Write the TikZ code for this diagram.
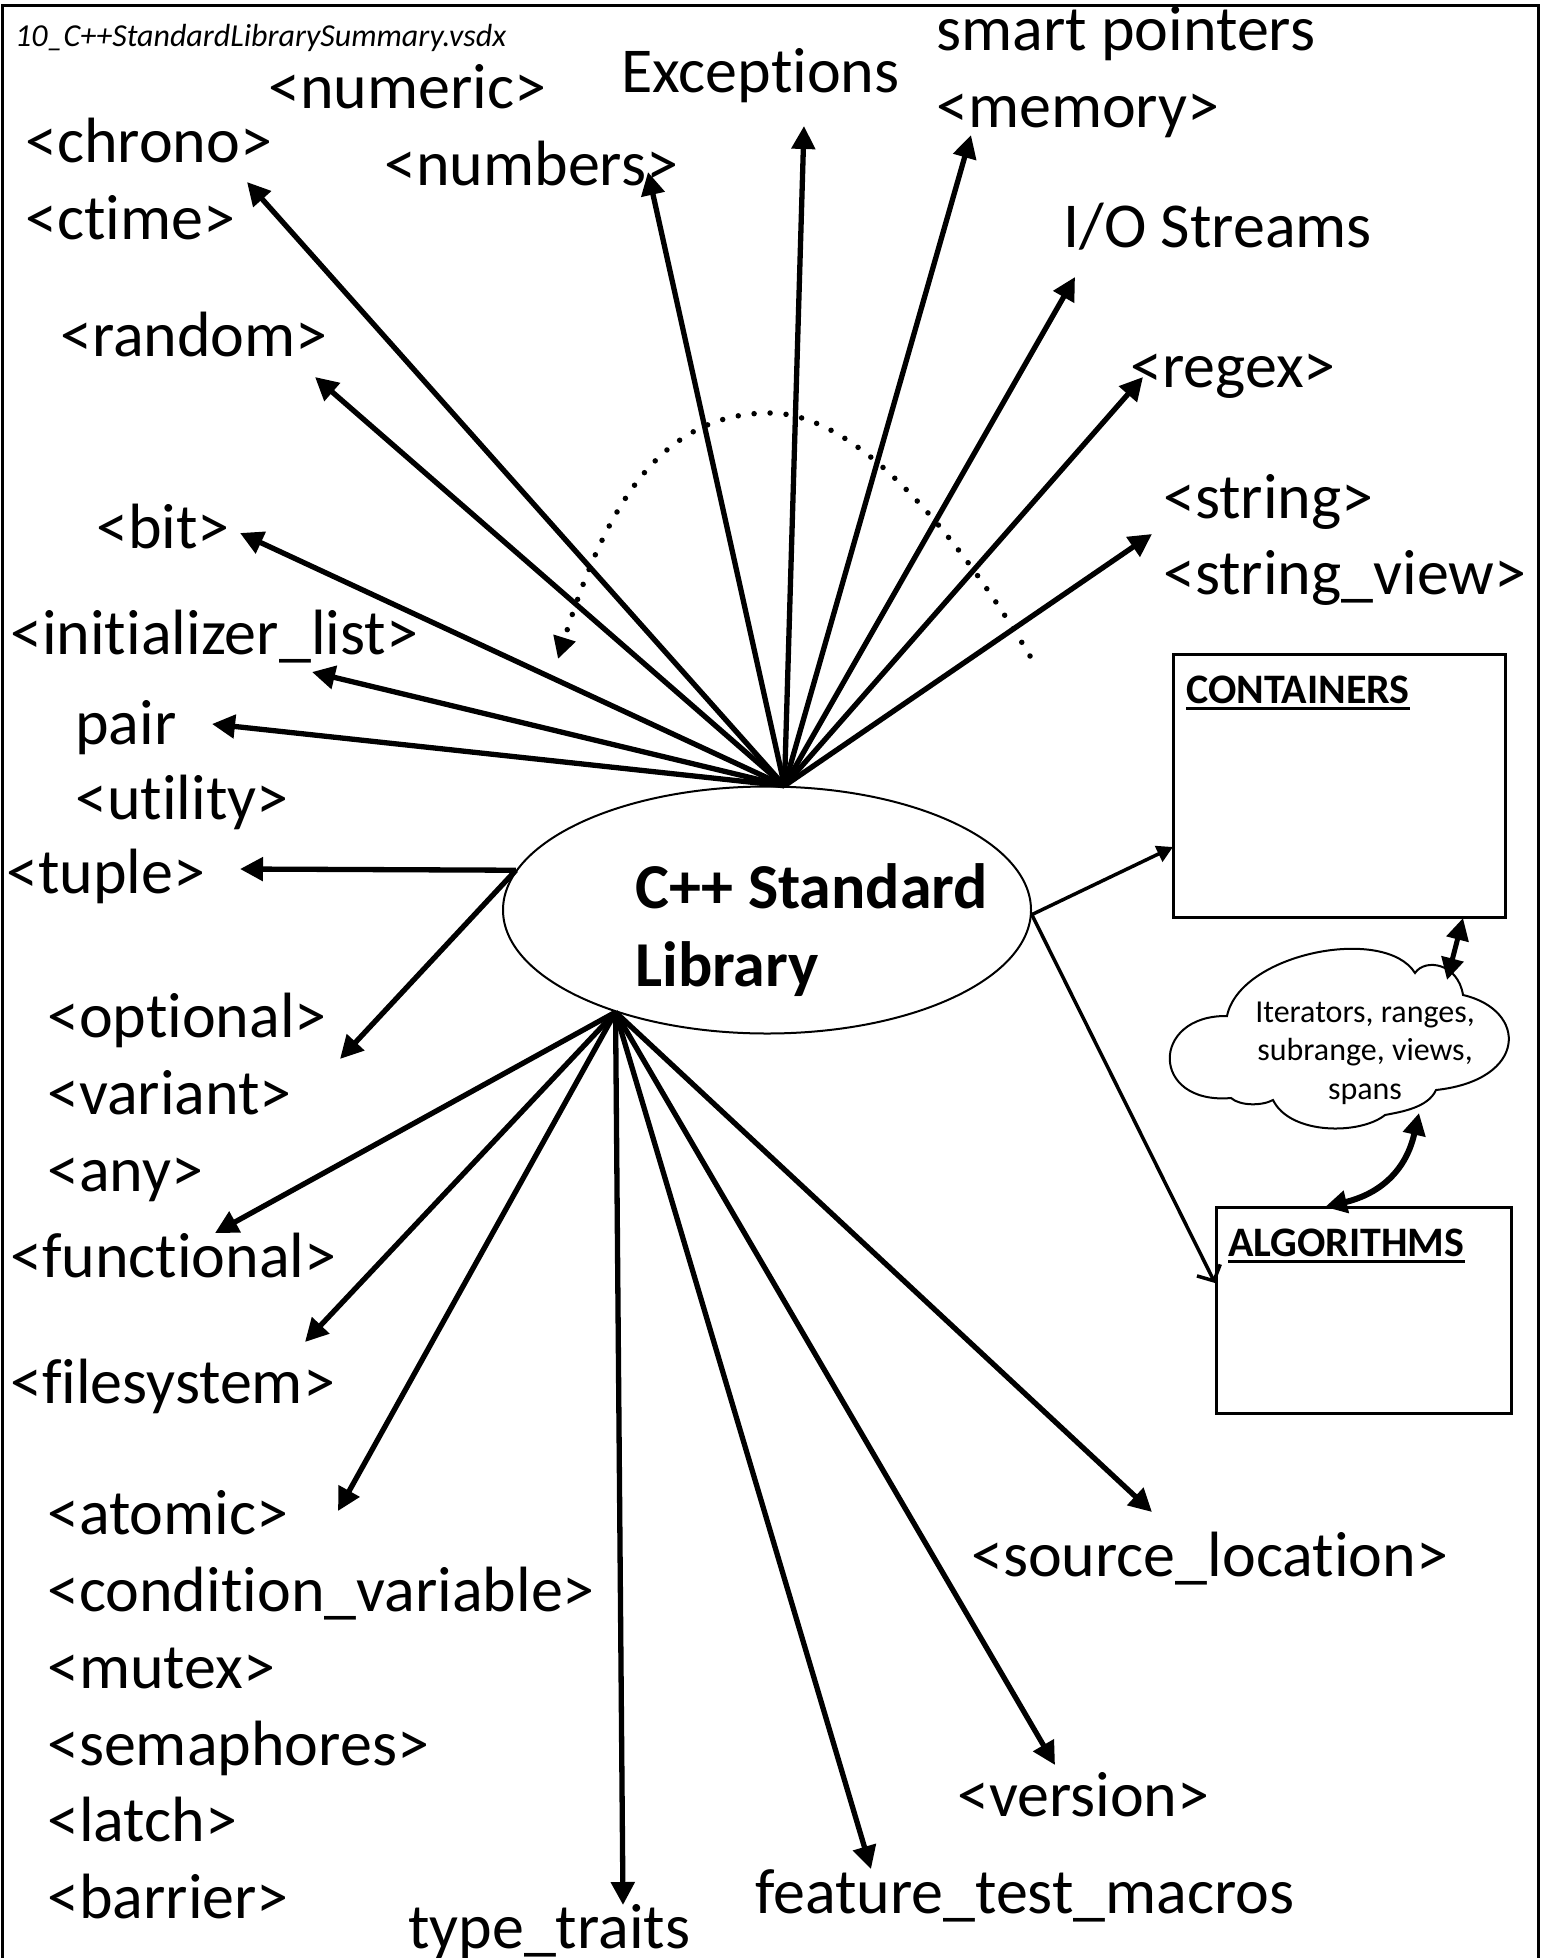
\documentclass[tikz,border=0pt]{standalone}
\usepackage{fontspec}
\setmainfont{Carlito}[Ligatures=NoCommon]
\usetikzlibrary{arrows.meta,shapes.geometric,calc}
\begin{document}
\begin{tikzpicture}[x=1pt,y=-1pt,
  lbl/.style={anchor=base west, inner sep=0pt, yshift=-3pt, font=\fontsize{64}{77}\selectfont},
  boldlbl/.style={anchor=base west, inner sep=0pt, yshift=-3pt, font=\bfseries\fontsize{64}{77}\selectfont},
  boxtitle/.style={anchor=base west, inner sep=0pt, font=\bfseries\fontsize{42}{50}\selectfont},
  cloudtxt/.style={anchor=base, inner sep=0pt, yshift=-2pt, font=\fontsize{32}{38}\selectfont},
  fan/.style={line width=5.3pt, -{Triangle[length=23pt,width=23pt]}},
  thinarrow/.style={line width=3.5pt},
  dbl/.style={line width=5pt, {Triangle[length=22pt,width=22pt]}-{Triangle[length=22pt,width=22pt]}},
  boxframe/.style={draw, line width=2.5pt, inner sep=0pt, anchor=north west}
]
\useasboundingbox (0,0) rectangle (1543,1958);
% outer frame
\draw[line width=3pt] (2,1970) -- (2,6) -- (1538,6) -- (1538,1970);

% title
\node[anchor=base west, inner sep=0pt, font=\itshape\fontsize{32}{38}\selectfont] (title) at (15,47) {10\_C++StandardLibrarySummary.vsdx};

% central ellipse
\node[draw, ellipse, line width=2pt, minimum width=528pt, minimum height=247pt, inner sep=0pt] (lib) at (767,910) {};
\node[boldlbl] (libA) at (635,905) {C++ Standard};
\node[boldlbl] (libB) at (635,983) {Library};

% labels top
\node[lbl] (numeric) at (268,106) {<numeric>};
\node[lbl] (exc) at (621,90) {Exceptions};
\node[lbl] (smart) at (936,48) {smart pointers};
\node[lbl] (memory) at (936,125) {<memory>};
\node[lbl] (chrono) at (25,160) {<chrono>};
\node[lbl] (ctime) at (25,237) {<ctime>};
\node[lbl] (numbers) at (384,183) {<numbers>};
\node[lbl] (io) at (1063,245) {I/O Streams};
\node[lbl] (random) at (60,353) {<random>};
\node[lbl] (regex) at (1130,384) {<regex>};
\node[lbl] (string) at (1163,515) {<string>};
\node[lbl] (strview) at (1163,591) {<string\_view>};
\node[lbl] (bit) at (96,545) {<bit>};
\node[lbl] (initl) at (10,651) {<initializer\_list>};
\node[lbl] (pair) at (75,741) {pair};
\node[lbl] (utility) at (75,816) {<utility>};
\node[lbl] (tuple) at (6,890) {<tuple>};
\node[lbl] (optional) at (47,1034) {<optional>};
\node[lbl] (variant) at (47,1111) {<variant>};
\node[lbl] (any) at (47,1188) {<any>};
\node[lbl] (functional) at (10,1274) {<functional>};
\node[lbl] (filesystem) at (10,1400) {<filesystem>};
\node[lbl] (atomic) at (47,1531) {<atomic>};
\node[lbl] (condvar) at (47,1608) {<condition\_variable>};
\node[lbl] (mutex) at (47,1685) {<mutex>};
\node[lbl] (sema) at (47,1762) {<semaphores>};
\node[lbl] (latch) at (47,1838) {<latch>};
\node[lbl] (barrier) at (47,1915) {<barrier>};
\node[lbl] (srcloc) at (971,1573) {<source\_location>};
\node[lbl] (version) at (957,1813) {<version>};
\node[lbl] (feature) at (755,1910) {feature\_test\_macros};
\node[lbl] (typetr) at (408,1945) {type\_traits};

% boxes
\node[boxframe, minimum width=332pt, minimum height=263pt] (cont) at (1172,653) {};
\node[boxtitle] (contt) at (1186,703) {CONTAINERS};
\draw[line width=3pt] ($(contt.base west)+(0,5)$) -- ($(contt.base east)+(0,5)$);
\node[boxframe, minimum width=295pt, minimum height=206pt] (alg) at (1215,1206) {};
\node[boxtitle] (algt) at (1228,1256) {ALGORITHMS};
\draw[line width=3pt] ($(algt.base west)+(0,5)$) -- ($(algt.base east)+(0,5)$);

% cloud
\draw[line width=2pt] (1227,1016)
  .. controls (1240,953) and (1385,925) .. (1415,973)
  .. controls (1425,958) and (1458,963) .. (1463,995)
  .. controls (1528,1010) and (1528,1080) .. (1436,1090)
  .. controls (1428,1108) and (1400,1112) .. (1385,1115)
  .. controls (1360,1135) and (1290,1135) .. (1273,1100)
  .. controls (1262,1106) and (1240,1106) .. (1231,1098)
  .. controls (1150,1105) and (1150,1015) .. cycle;
\node[cloudtxt] (cl1) at (1365,1020) {Iterators, ranges,};
\node[cloudtxt] (cl2) at (1365,1058) {subrange, views,};
\node[cloudtxt] (cl3) at (1365,1097) {spans};
\coordinate (cloudTop) at (1447,980);
\coordinate (cloudBot) at (1419,1113);

% arrow tip coordinates
\coordinate (tChrono) at (247,182);
\coordinate (tNumbers) at (648,172);
\coordinate (tExc) at (804,126);
\coordinate (tMem) at (971,135);
\coordinate (tIO) at (1075,277);
\coordinate (tRegex) at (1143,377);
\coordinate (tString) at (1152,534);
\coordinate (tRandom) at (315,377);
\coordinate (tBit) at (240,533);
\coordinate (tInit) at (312,672);
\coordinate (tPair) at (212,724);
\coordinate (tTuple) at (240,869);
\coordinate (tOpt) at (340,1059);
\coordinate (tFunc) at (215,1233);
\coordinate (tFs) at (305,1342);
\coordinate (tAtomic) at (338,1511);
\coordinate (tType) at (623,1905);
\coordinate (tFeat) at (871,1869);
\coordinate (tVer) at (1055,1765);
\coordinate (tSrc) at (1152,1512);
\coordinate (tCont) at (1173,847);
\coordinate (tAlg) at (1215,1283);
\coordinate (tContBot) at (1463,918);
\coordinate (tAlgTop) at (1325,1207);

% top fan
\foreach \t in {tChrono,tNumbers,tExc,tMem,tIO,tRegex,tString,tRandom,tBit,tInit,tPair}
  \draw[fan] (lib.82) -- (\t);
% left
\draw[fan] (lib.171) -- (tTuple);
\draw[fan] (lib.171) -- (tOpt);
% bottom fan
\foreach \t in {tFunc,tFs,tAtomic,tType,tFeat,tVer,tSrc}
  \draw[fan] (lib.214) -- (\t);

% containers / algorithms
\draw[thinarrow, -{Triangle[length=16pt,width=17pt]}] (lib.-1.6) -- (tCont);
\draw[thinarrow, -{Straight Barb[length=12pt,width=26pt,line width=3.5pt]}] (lib.-1.6) -- (tAlg);
\draw[dbl] (cloudTop) -- (tContBot);
\draw[dbl, line width=6pt] (cloudBot) .. controls (1405,1175) and (1375,1195) .. (tAlgTop);

% dotted arc
\coordinate (dStart) at (1030,656);
\coordinate (dEnd) at (558,659);
\draw[line width=5.5pt, line cap=round, dash pattern=on 0pt off 16pt, -{Triangle[length=22pt,width=22pt]}]
  (dStart) .. controls (979,570) and (870,413) .. (770,413)
  .. controls (660,413) and (606,506) .. (dEnd);
\end{tikzpicture}
\end{document}
